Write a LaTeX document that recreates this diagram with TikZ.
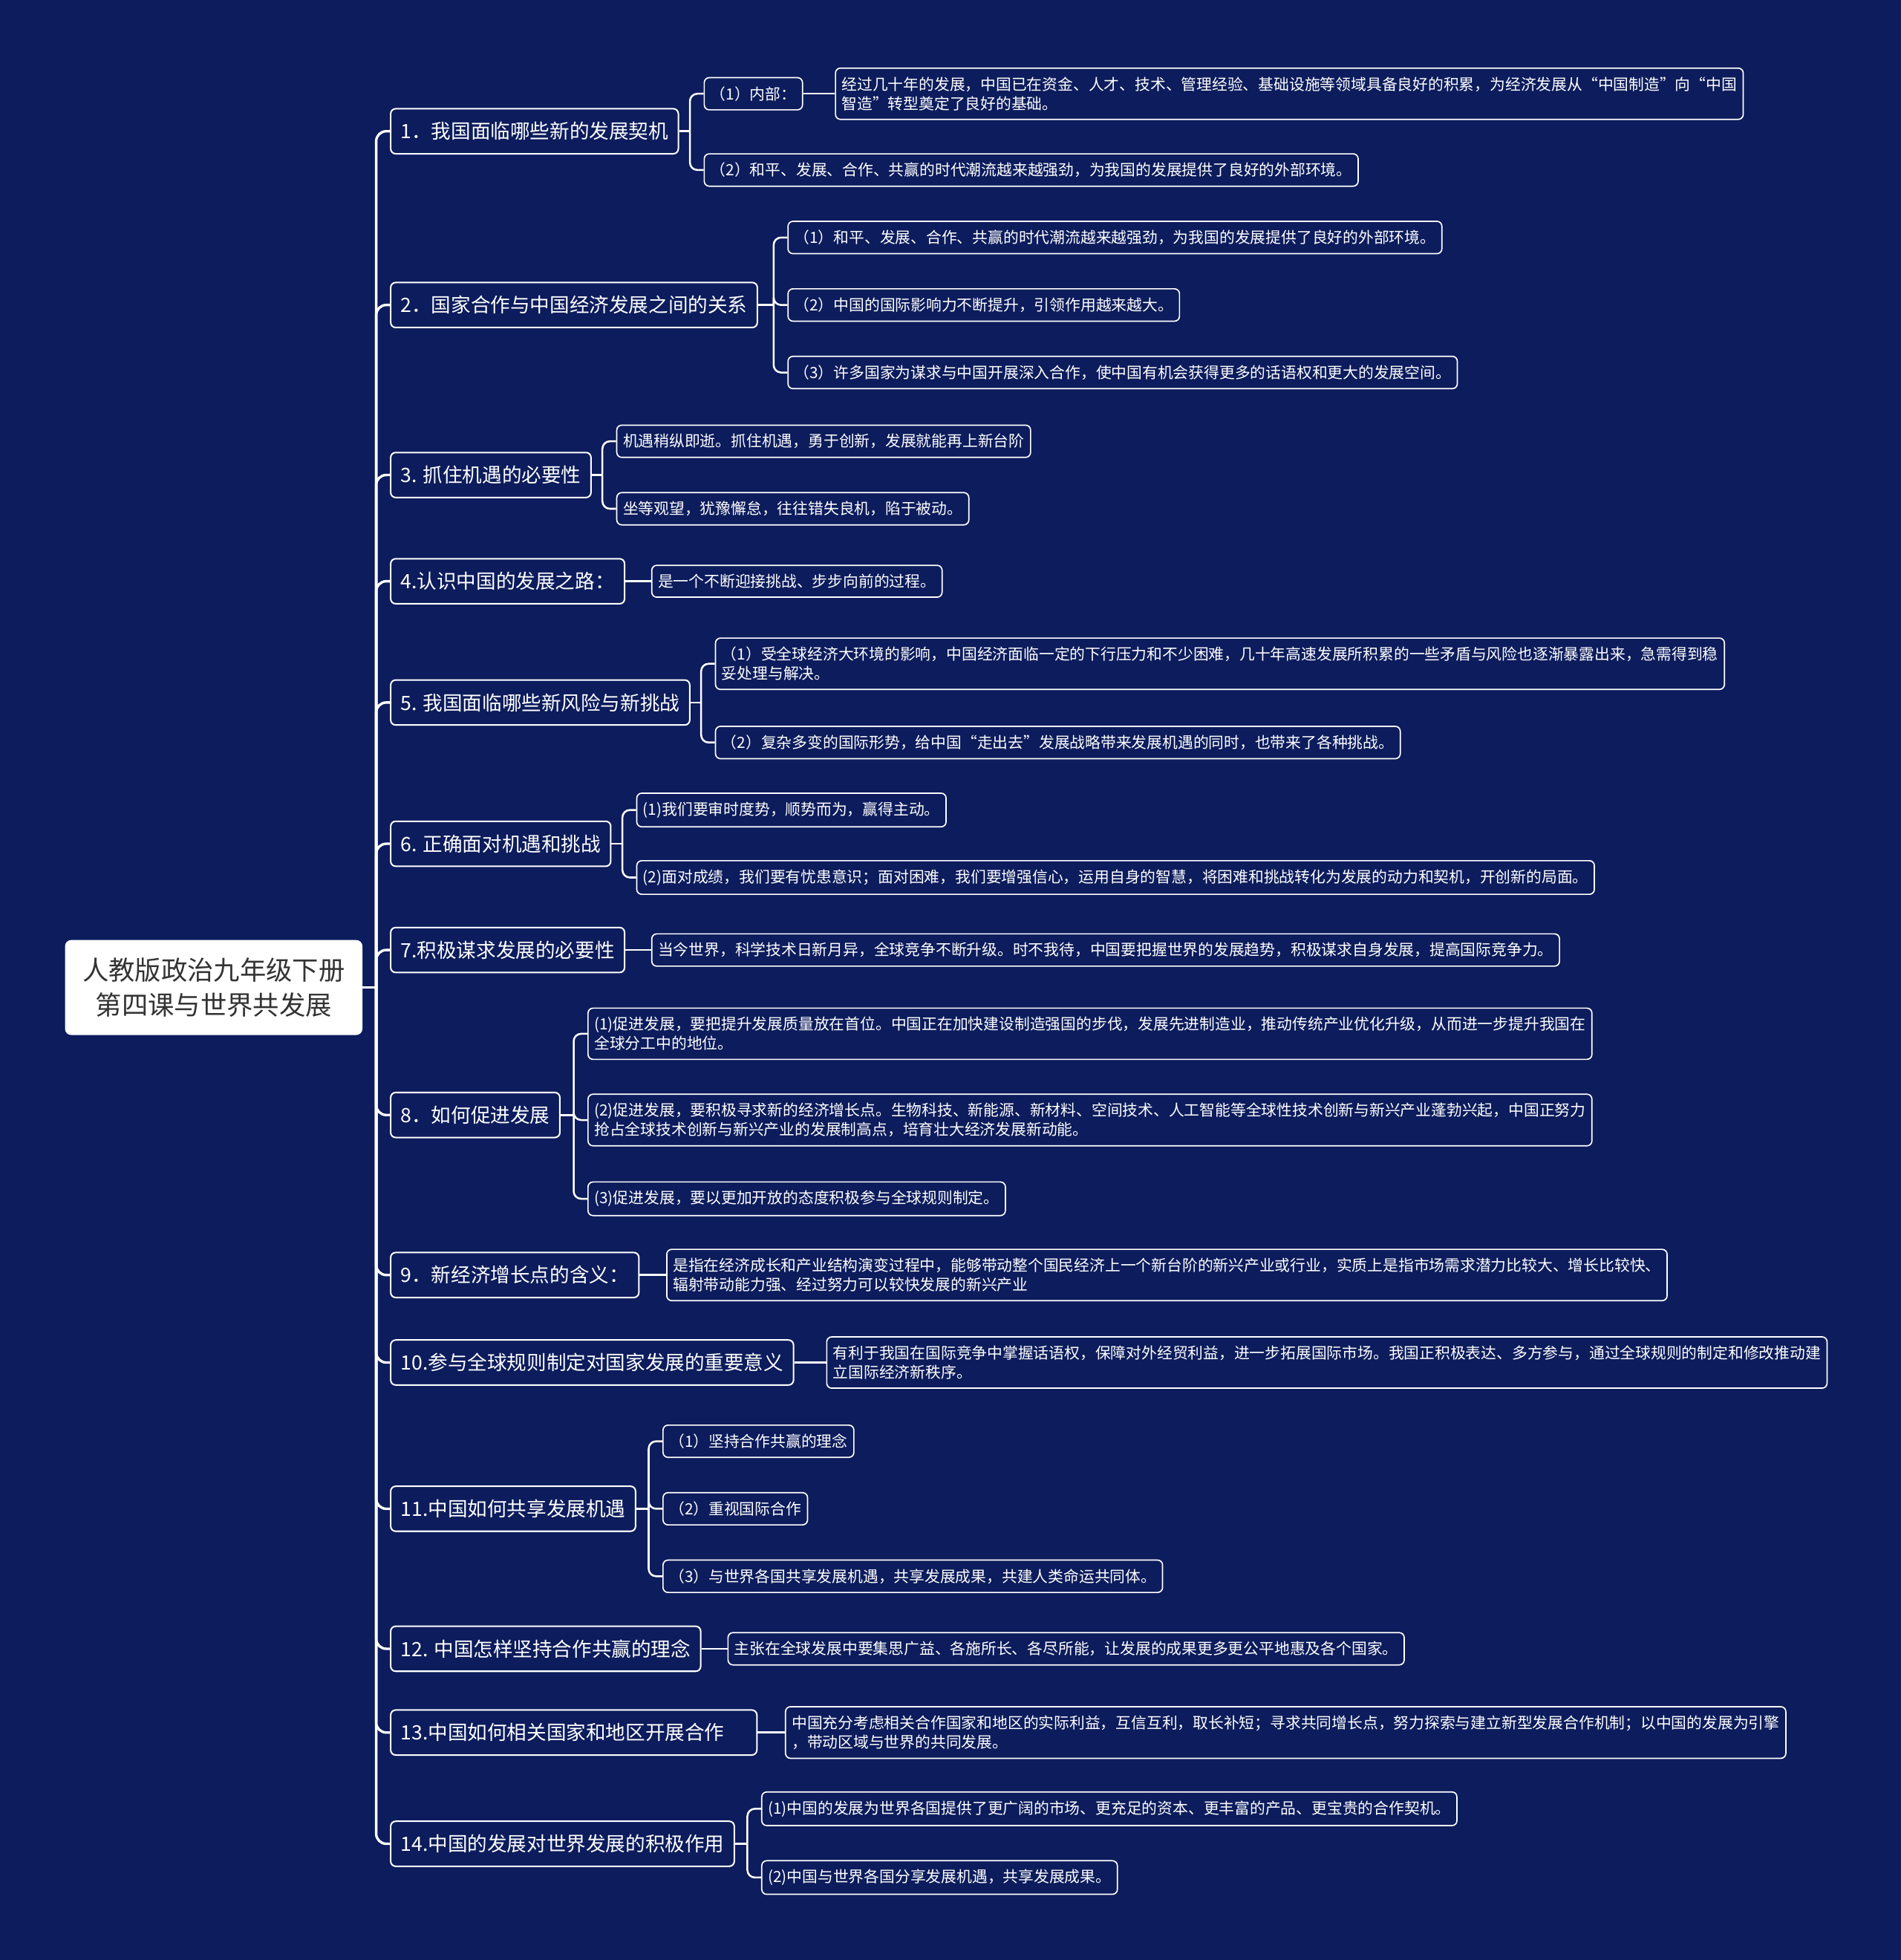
\documentclass[tikz,border=0pt]{standalone}
\usepackage{fontspec}
\setmainfont{Noto Sans CJK SC}
\definecolor{bgnavy}{RGB}{12,28,92}
\definecolor{rootgray}{RGB}{51,51,51}

\begin{document}
\begin{tikzpicture}[x=1pt, y=-1pt,
    root/.style={rectangle, rounded corners=5pt, fill=white, text=rootgray, align=center, minimum width=238pt, minimum height=76pt, font=\fontsize{21}{28}\selectfont},
    topic/.style={rectangle, rounded corners=4pt, draw=white, line width=1.2pt, fill=bgnavy, text=white, anchor=west, inner xsep=8pt, minimum height=36pt, font=\fontsize{15.8}{19}\selectfont},
    leaf/.style={rectangle, rounded corners=4pt, draw=white, line width=1pt, fill=bgnavy, text=white, anchor=west, align=left, inner xsep=5pt, inner ysep=7pt, font=\fontsize{12.35}{15.5}\selectfont},
    trunk/.style={draw=white, line width=2pt, rounded corners=8pt},
    twig/.style={draw=white, line width=1.5pt, rounded corners=6pt}
]
% background
\fill[bgnavy] (0,0) rectangle (1521,1568);

% Root
\node[root] (root) at (171,790) {人教版政治九年级下册\\第四课与世界共发展};

% Topics
\node[topic] (b1) at (312,105) {1．我国面临哪些新的发展契机};
\node[topic] (b2) at (312,244) {2．国家合作与中国经济发展之间的关系};
\node[topic] (b3) at (312,380) {3. 抓住机遇的必要性};
\node[topic] (b4) at (312,465) {4.认识中国的发展之路：};
\node[topic] (b5) at (312,562) {5. 我国面临哪些新风险与新挑战};
\node[topic] (b6) at (312,675) {6. 正确面对机遇和挑战};
\node[topic] (b7) at (312,760) {7.积极谋求发展的必要性};
\node[topic] (b8) at (312,892) {8．如何促进发展};
\node[topic] (b9) at (312,1020) {9．新经济增长点的含义：};
\node[topic] (b10) at (312,1090) {10.参与全球规则制定对国家发展的重要意义};
\node[topic] (b11) at (312,1207) {11.中国如何共享发展机遇};
\node[topic] (b12) at (312,1319) {12. 中国怎样坚持合作共赢的理念};
\node[topic, minimum width=293pt, align=left, text width=277pt] (b13) at (312,1386) {13.中国如何相关国家和地区开展合作};
\node[topic] (b14) at (312,1475) {14.中国的发展对世界发展的积极作用};

% Trunk
\coordinate (t) at (301,790);
\draw[trunk] (root.east) -- (t);
\foreach \n in {1,...,14}
  \draw[trunk] (t) |- (b\n.west);

% 1
\node[leaf] (l1a) at (563,75) {（1）内部：};
\node[leaf] (l1x) at (668,75) {经过几十年的发展，中国已在资金、人才、技术、管理经验、基础设施等领域具备良好的积累，为经济发展从“中国制造”向“中国\\智造”转型奠定了良好的基础。};
\node[leaf] (l1b) at (563,136) {（2）和平、发展、合作、共赢的时代潮流越来越强劲，为我国的发展提供了良好的外部环境。};
\coordinate (f1) at (552,105);
\draw[twig] (b1.east) -- (f1);
\draw[twig] (f1) |- (l1a.west);
\draw[twig] (f1) |- (l1b.west);
\draw[twig] (l1a.east) -- (l1x.west);

% 2
\node[leaf] (l2a) at (630,190) {（1）和平、发展、合作、共赢的时代潮流越来越强劲，为我国的发展提供了良好的外部环境。};
\node[leaf] (l2b) at (630,244) {（2）中国的国际影响力不断提升，引领作用越来越大。};
\node[leaf] (l2c) at (630,298) {（3）许多国家为谋求与中国开展深入合作，使中国有机会获得更多的话语权和更大的发展空间。};
\coordinate (f2) at (619,244);
\draw[twig] (b2.east) -- (f2);
\draw[twig] (f2) |- (l2a.west);
\draw[twig] (f2) |- (l2b.west);
\draw[twig] (f2) |- (l2c.west);

% 3
\node[leaf] (l3a) at (493,353) {机遇稍纵即逝。抓住机遇，勇于创新，发展就能再上新台阶};
\node[leaf] (l3b) at (493,407) {坐等观望，犹豫懈怠，往往错失良机，陷于被动。};
\coordinate (f3) at (482,380);
\draw[twig] (b3.east) -- (f3);
\draw[twig] (f3) |- (l3a.west);
\draw[twig] (f3) |- (l3b.west);

% 4
\node[leaf] (l4a) at (521,465) {是一个不断迎接挑战、步步向前的过程。};
\draw[twig] (b4.east) -- (l4a.west);

% 5
\node[leaf] (l5a) at (572,531) {（1）受全球经济大环境的影响，中国经济面临一定的下行压力和不少困难，几十年高速发展所积累的一些矛盾与风险也逐渐暴露出来，急需得到稳\\妥处理与解决。};
\node[leaf] (l5b) at (572,594) {（2）复杂多变的国际形势，给中国“走出去”发展战略带来发展机遇的同时，也带来了各种挑战。};
\coordinate (f5) at (561,562);
\draw[twig] (b5.east) -- (f5);
\draw[twig] (f5) |- (l5a.west);
\draw[twig] (f5) |- (l5b.west);

% 6
\node[leaf] (l6a) at (509,648) {(1)我们要审时度势，顺势而为，赢得主动。};
\node[leaf] (l6b) at (509,702) {(2)面对成绩，我们要有忧患意识；面对困难，我们要增强信心，运用自身的智慧，将困难和挑战转化为发展的动力和契机，开创新的局面。};
\coordinate (f6) at (498,675);
\draw[twig] (b6.east) -- (f6);
\draw[twig] (f6) |- (l6a.west);
\draw[twig] (f6) |- (l6b.west);

% 7
\node[leaf] (l7a) at (521,760) {当今世界，科学技术日新月异，全球竞争不断升级。时不我待，中国要把握世界的发展趋势，积极谋求自身发展，提高国际竞争力。};
\draw[twig] (b7.east) -- (l7a.west);

% 8
\node[leaf] (l8a) at (470,827) {(1)促进发展，要把提升发展质量放在首位。中国正在加快建设制造强国的步伐，发展先进制造业，推动传统产业优化升级，从而进一步提升我国在\\全球分工中的地位。};
\node[leaf] (l8b) at (470,896) {(2)促进发展，要积极寻求新的经济增长点。生物科技、新能源、新材料、空间技术、人工智能等全球性技术创新与新兴产业蓬勃兴起，中国正努力\\抢占全球技术创新与新兴产业的发展制高点，培育壮大经济发展新动能。};
\node[leaf] (l8c) at (470,959) {(3)促进发展，要以更加开放的态度积极参与全球规则制定。};
\coordinate (f8) at (459,892);
\draw[twig] (b8.east) -- (f8);
\draw[twig] (f8) |- (l8a.west);
\draw[twig] (f8) |- (l8b.west);
\draw[twig] (f8) |- (l8c.west);

% 9
\node[leaf] (l9a) at (533,1020) {是指在经济成长和产业结构演变过程中，能够带动整个国民经济上一个新台阶的新兴产业或行业，实质上是指市场需求潜力比较大、增长比较快、\\辐射带动能力强、经过努力可以较快发展的新兴产业};
\draw[twig] (b9.east) -- (l9a.west);

% 10
\node[leaf] (l10a) at (661,1090) {有利于我国在国际竞争中掌握话语权，保障对外经贸利益，进一步拓展国际市场。我国正积极表达、多方参与，通过全球规则的制定和修改推动建\\立国际经济新秩序。};
\draw[twig] (b10.east) -- (l10a.west);

% 11
\node[leaf] (l11a) at (530,1153) {（1）坚持合作共赢的理念};
\node[leaf] (l11b) at (530,1207) {（2）重视国际合作};
\node[leaf] (l11c) at (530,1261) {（3）与世界各国共享发展机遇，共享发展成果，共建人类命运共同体。};
\coordinate (f11) at (519,1207);
\draw[twig] (b11.east) -- (f11);
\draw[twig] (f11) |- (l11a.west);
\draw[twig] (f11) |- (l11b.west);
\draw[twig] (f11) |- (l11c.west);

% 12
\node[leaf] (l12a) at (582,1319) {主张在全球发展中要集思广益、各施所长、各尽所能，让发展的成果更多更公平地惠及各个国家。};
\draw[twig] (b12.east) -- (l12a.west);

% 13
\node[leaf] (l13a) at (628,1386) {中国充分考虑相关合作国家和地区的实际利益，互信互利，取长补短；寻求共同增长点，努力探索与建立新型发展合作机制；以中国的发展为引擎\\，带动区域与世界的共同发展。};
\draw[twig] (b13.east) -- (l13a.west);

% 14
\node[leaf] (l14a) at (609,1447) {(1)中国的发展为世界各国提供了更广阔的市场、更充足的资本、更丰富的产品、更宝贵的合作契机。};
\node[leaf] (l14b) at (609,1502) {(2)中国与世界各国分享发展机遇，共享发展成果。};
\coordinate (f14) at (598,1475);
\draw[twig] (b14.east) -- (f14);
\draw[twig] (f14) |- (l14a.west);
\draw[twig] (f14) |- (l14b.west);
\end{tikzpicture}
\end{document}
